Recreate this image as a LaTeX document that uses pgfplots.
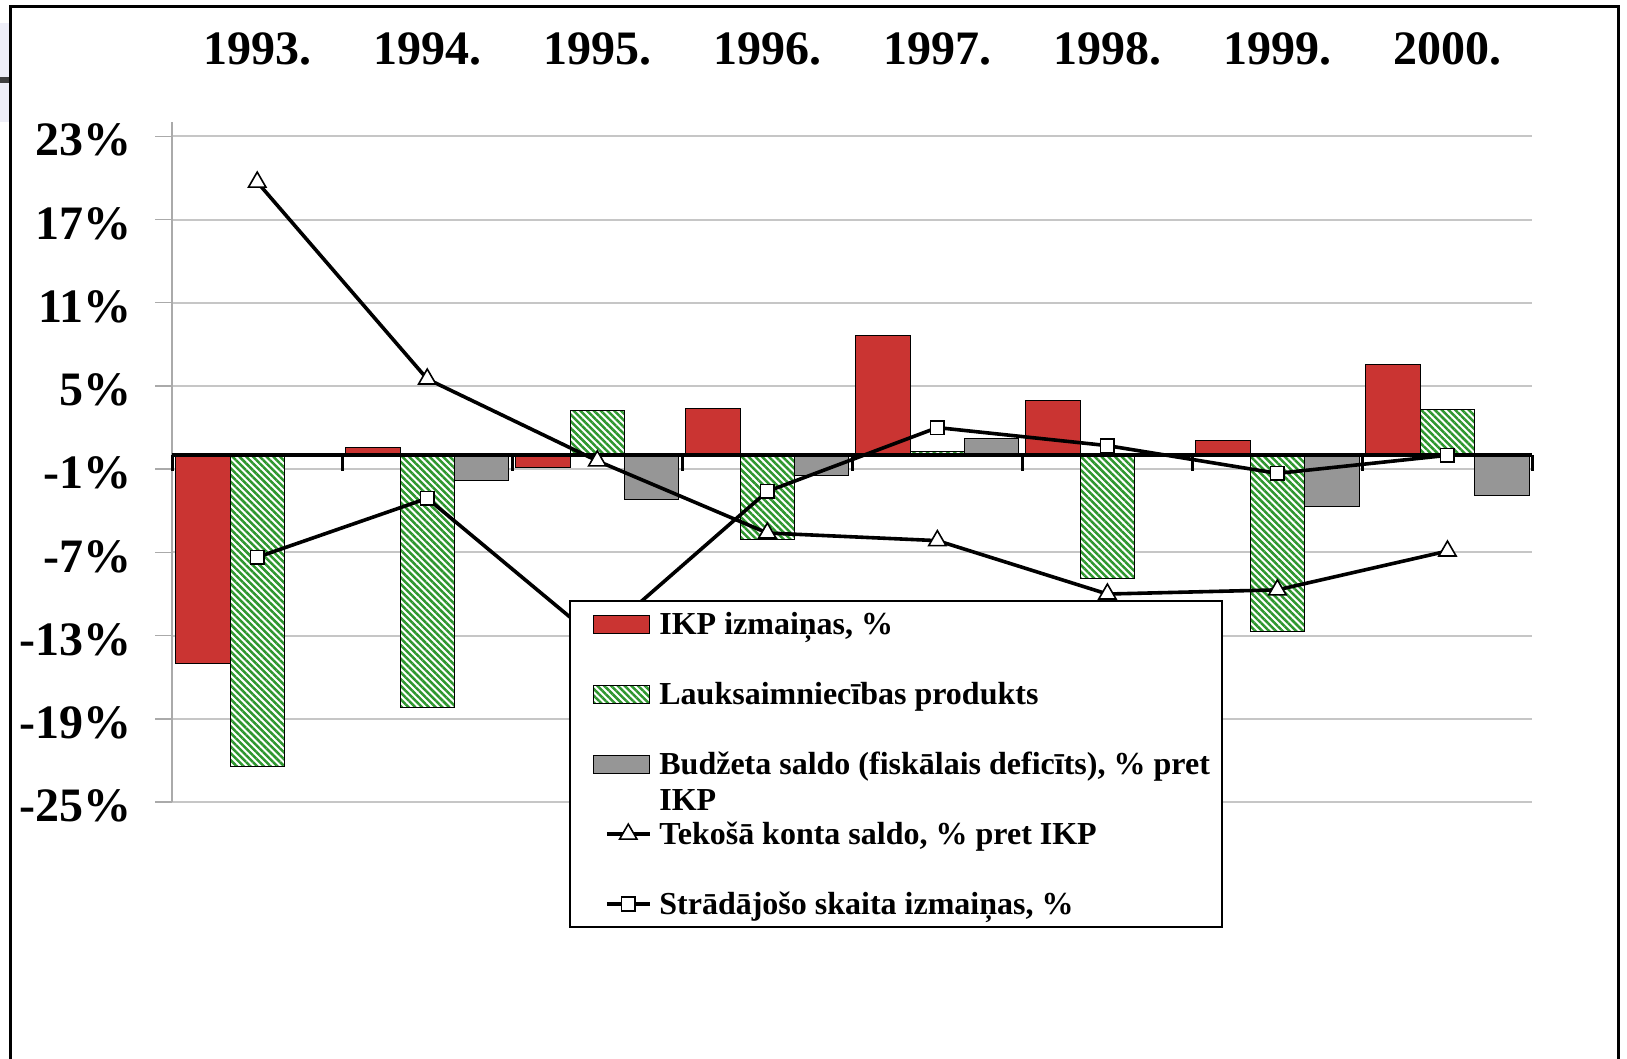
\documentclass[border=0pt]{standalone}
\usepackage{pgfplots}
\pgfplotsset{compat=1.18}
\usetikzlibrary{patterns.meta}
\usepackage{fontspec}
\setmainfont{Liberation Serif}
\definecolor{ikpred}{RGB}{202,52,50}
\definecolor{stripegreen}{RGB}{46,150,46}
\definecolor{budgray}{RGB}{150,150,150}
\definecolor{gridgray}{RGB}{198,198,198}
\definecolor{axisgray}{RGB}{170,170,170}
\definecolor{lav}{RGB}{238,238,248}
\pgfplotsset{
  barlegend/.style={legend image code/.code={\path (-5.2pt,0pt); \draw[##1] (0pt,-4.5pt) rectangle (28pt,4.5pt);}},
  linelegend/.style={legend image code/.code={\path (-5.2pt,0pt); \draw[mark repeat=2,mark phase=2,##1] plot coordinates {(6.5pt,0pt) (17.25pt,0pt) (28pt,0pt)};}},
}
\begin{document}
\begin{tikzpicture}
\useasboundingbox (0,0) rectangle (813.5pt,-529.5pt);
\fill[lav] (0,-11.5pt) rectangle (4.25pt,-61pt);
\fill[black!75] (0,-38.5pt) rectangle (4.25pt,-41.5pt);
\draw[line width=1.25pt] (5.25pt,-545pt) -- (5.25pt,-3.35pt) -- (809.25pt,-3.35pt) -- (809.25pt,-545pt);
\begin{axis}[
  scale only axis, width=680.15pt, height=339.85pt,
  at={(86.1pt,-401.05pt)}, anchor=south west,
  xmin=-0.5, xmax=7.5, ymin=-25, ymax=24,
  axis x line*=top, axis y line*=left,
  x axis line style={draw=none},
  y axis line style={draw=axisgray, line width=0.75pt},
  xtick={0,...,7},
  xticklabels={1993.,1994.,1995.,1996.,1997.,1998.,1999.,2000.},
  major x tick style={draw=none},
  ytick={-25,-19,-13,-7,-1,5,11,17,23},
  yticklabels={-25\%,-19\%,-13\%,-7\%,-1\%,5\%,11\%,17\%,23\%},
  ytick align=outside,
  major y tick style={draw=axisgray, line width=0.75pt},
  major tick length=8.5pt,
  ymajorgrids, grid style={draw=gridgray, line width=1pt},
  tick label style={font=\fontsize{24}{28}\selectfont\bfseries, inner sep=0pt},
  xticklabel style={anchor=base, yshift=28.8pt},
  yticklabel style={anchor=east, xshift=-11.6pt, yshift=-2pt},
  legend cell align=left,
  legend style={at={(0.2914,0.2978)}, anchor=north west, draw=black, line width=1pt, fill=white,
    font=\fontsize{16}{18}\selectfont\bfseries,
    inner xsep=6pt, inner ysep=6.5pt, row sep=24.6pt, column sep=3.9pt,
    nodes={inner sep=0pt, text height=10.4pt, text depth=0pt, anchor=west}},
  clip=false,
]
\addplot[ybar, bar width=0.32, bar shift=-0.32, draw=black, line width=0.5pt, fill=ikpred, barlegend]
  coordinates {(0,-15.0) (1,0.6) (2,-0.9) (3,3.35) (4,8.65) (5,3.95) (6,1.1) (7,6.55)};
\addlegendentry{IKP izmaiņas, \%}
\addplot[ybar, bar width=0.32, bar shift=0, draw=black, line width=0.5pt, fill=white,
  postaction={pattern={Lines[angle=-45,distance=2.4pt,line width=1.25pt]}, pattern color=stripegreen}, barlegend]
  coordinates {(0,-22.4) (1,-18.2) (2,3.2) (3,-6.1) (4,0.3) (5,-8.85) (6,-12.7) (7,3.3)};
\addlegendentry{Lauksaimniecības produkts}
\addplot[ybar, bar width=0.32, bar shift=0.32, draw=black, line width=0.5pt, fill=budgray, barlegend]
  coordinates {(1,-1.8) (2,-3.2) (3,-1.45) (4,1.2) (6,-3.7) (7,-2.9)};
\addlegendentry{\makebox[0pt][l]{\raisebox{-17.8pt}[0pt][0pt]{IKP}}Budžeta saldo (fiskālais deficīts), \% pret}
\draw[line width=2pt] (axis cs:-0.5,0) -- (axis cs:7.5,0);
\pgfplotsinvokeforeach{-0.5,0.5,1.5,2.5,3.5,4.5,5.5,6.5,7.5}{\draw[line width=1.5pt] (axis cs:#1,0) -- ([yshift=-7.85pt]axis cs:#1,0);}
\addplot[black, line width=1.8pt, mark=triangle*, mark size=5pt, mark options={fill=white, draw=black, line width=0.8pt}, linelegend]
  coordinates {(0,19.7) (1,5.5) (2,-0.4) (3,-5.6) (4,-6.15) (5,-10.0) (6,-9.7) (7,-6.9)};
\addlegendentry{Tekošā konta saldo, \% pret IKP}
\addplot[black, line width=1.8pt, mark=square*, mark size=3.4pt, mark options={fill=white, draw=black, line width=0.8pt}, linelegend]
  coordinates {(0,-7.35) (1,-3.1) (2,-13.3) (3,-2.6) (4,2.0) (5,0.7) (6,-1.3) (7,0.0)};
\addlegendentry{Strādājošo skaita izmaiņas, \%}
\end{axis}
\end{tikzpicture}
\end{document}
